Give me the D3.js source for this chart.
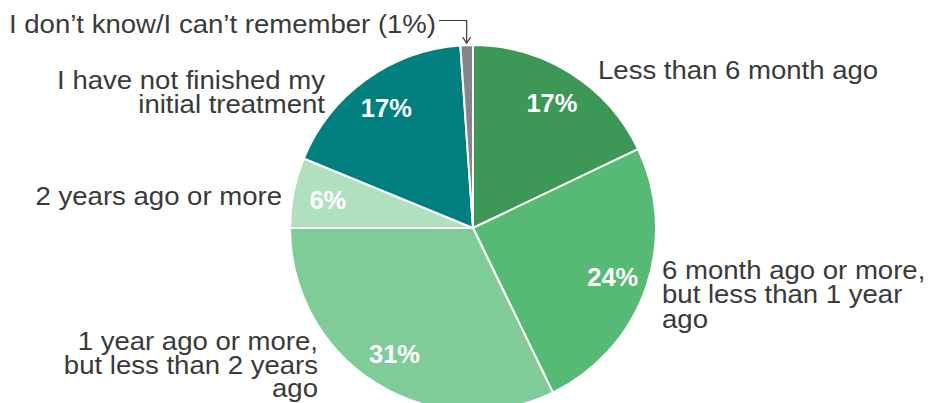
<!DOCTYPE html>
<html><head><meta charset="utf-8">
<script src="https://cdn.jsdelivr.net/npm/d3@7/dist/d3.min.js"></script>
<style>body{margin:0;background:#fff}svg{display:block}text{font-family:"Liberation Sans",Arial,sans-serif}</style>
</head><body><svg id="c" width="930" height="403"></svg>
<script>
const categories = ["Less than 6 month ago","6 month ago or more, but less than 1 year ago","1 year ago or more, but less than 2 years ago","2 years ago or more","I have not finished my initial treatment","I don't know/I can't remember"];
const values = [17.9, 24.9, 32.2, 6.2, 17.7, 1.1];
const pctLabels = ["17%","24%","31%","6%","17%","1%"];
const colors = ["#3d9756","#56ba74","#80cc99","#b1e0bf","#007f7e","#858585"];
const outerLabels = [
  {lines:["Less than 6 month ago"], x:598, y:79, anchor:"start", lh:24},
  {lines:["6 month ago or more,","but less than 1 year","ago"], x:662, y:279, anchor:"start", lh:24.5},
  {lines:["1 year ago or more,","but less than 2 years","ago"], x:318, y:350, anchor:"end", lh:23.5},
  {lines:["2 years ago or more"], x:282, y:205, anchor:"end", lh:24},
  {lines:["I have not finished my","initial treatment"], x:325, y:89, anchor:"end", lh:23.5},
  {lines:["I don\u2019t know/I can\u2019t remember (1%)"], x:9, y:33, anchor:"start", lh:24}
];
const svg = d3.select("#c");
const cx=473, cy=228, R=183;
const pie = d3.pie().sort(null).value(d=>d)(values);
const arc = d3.arc().innerRadius(0).outerRadius(R);
const labArc = d3.arc().innerRadius(148).outerRadius(148);
const g = svg.append("g").attr("transform",`translate(${cx},${cy})`);
g.selectAll("path").data(pie).join("path")
  .attr("d",arc).attr("fill",(d,i)=>colors[i])
  .attr("stroke","#fff").attr("stroke-width",2).attr("stroke-linejoin","round");
g.selectAll("text.p").data(pie.slice(0,5)).join("text").attr("class","p")
  .attr("transform",d=>`translate(${labArc.centroid(d)})`)
  .attr("text-anchor","middle").attr("dy","0.36em")
  .attr("fill","#fff").attr("font-weight","bold").attr("font-size",25.5)
  .text((d,i)=>pctLabels[i]);
outerLabels.forEach(l=>{
  const t = svg.append("text").attr("transform",`translate(${l.x},${l.y}) scale(1.04,1)`)
    .attr("text-anchor",l.anchor).attr("fill","#3a3a3a").attr("font-size",26.5);
  l.lines.forEach((s,j)=>t.append("tspan").attr("x",0).attr("y",j*l.lh).text(s));
});
// connector for smallest slice
const last = pie[5];
const mid = (last.startAngle+last.endAngle)/2;
const ex = cx + Math.sin(mid)*R, ey = cy - Math.cos(mid)*R;
svg.append("path").attr("d",`M439,20.5 H${ex} V${ey-2}`).attr("fill","none").attr("stroke","#3a3a3a").attr("stroke-width",1.2);
svg.append("path").attr("d",`M${ex-4},${ey-8} L${ex},${ey-2} L${ex+4},${ey-8}`).attr("fill","none").attr("stroke","#3a3a3a").attr("stroke-width",1.2);
</script></body></html>
